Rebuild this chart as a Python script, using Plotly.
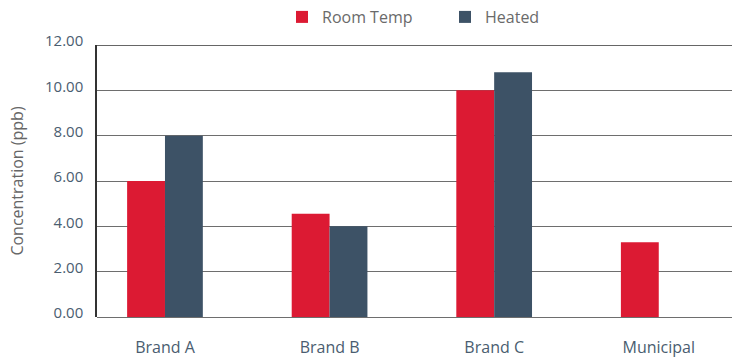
import plotly.graph_objects as go

categories = ["Brand A", "Brand B", "Brand C", "Municipal"]
room_temp = [6.0, 4.55, 10.0, 3.3]
heated = [8.0, 4.0, 10.8, None]
y_ticks = [0, 2, 4, 6, 8, 10, 12]

RED = "#dc1a33"
DARK = "#3d5266"
LABEL = "#4a5d70"
FONT = "Open Sans"

fig = go.Figure()
fig.add_trace(go.Bar(name="Room Temp", x=categories, y=room_temp, marker_color=RED, marker_line_width=0))
fig.add_trace(go.Bar(name="Heated", x=categories, y=heated, marker_color=DARK, marker_line_width=0))

fig.update_layout(
    width=732, height=358,
    margin=dict(l=97, r=0, t=44, b=41),
    paper_bgcolor="white", plot_bgcolor="white",
    barmode="group", bargap=0.54, bargroupgap=0,
    font=dict(family=FONT, color=LABEL),
    showlegend=True,
    legend=dict(orientation="h", x=(282 - 97) / 635, xanchor="left", y=1.04, yanchor="bottom",
                yref="paper", entrywidth=118, entrywidthmode="pixels",
                font=dict(size=16, color="#6a6a6a", family=FONT),
                itemclick=False, bgcolor="rgba(0,0,0,0)"),
    xaxis=dict(type="category", range=[-0.413, 3.445], showgrid=False, showline=False,
               ticks="", tickfont=dict(size=16, color=LABEL), ticklabelstandoff=19),
    yaxis=dict(range=[0, 12], tickvals=y_ticks, tickformat=".2f", showgrid=True,
               gridcolor="#6e6e6e", gridwidth=1.3, showline=True, linecolor="#333333", linewidth=1.5,
               zeroline=True, zerolinecolor="#6e6e6e", zerolinewidth=1.3,
               ticks="", tickfont=dict(size=15, color=LABEL), ticklabelstandoff=9, ticklabelshift=-4,
               title=dict(text="Concentration (ppb)", font=dict(size=16, color="#666666"), standoff=17)),
)
fig.add_hline(y=12, line_color="#333333", line_width=1.5)

fig.write_html("out.html")
